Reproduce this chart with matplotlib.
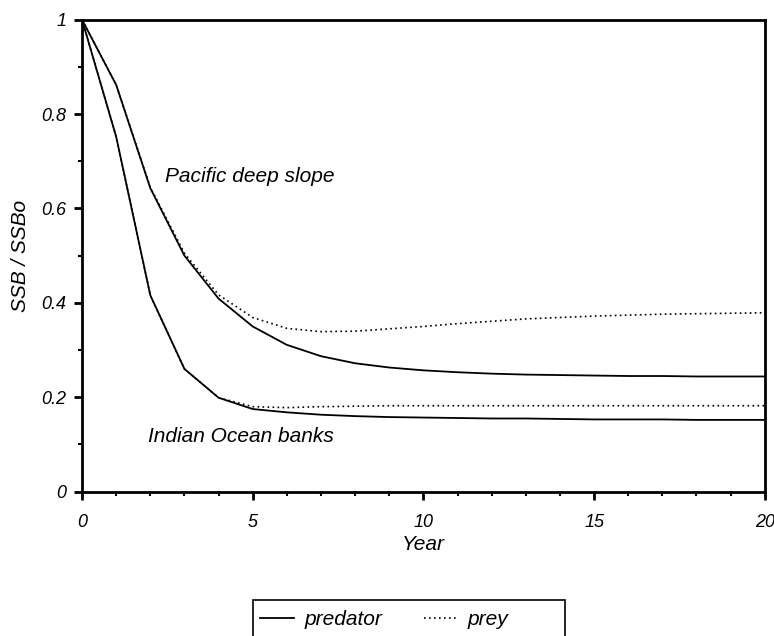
import numpy as np
import matplotlib
matplotlib.use('Agg')
import matplotlib.pyplot as plt
from matplotlib.ticker import MultipleLocator
from matplotlib.patches import Rectangle

years = np.arange(0, 21)

pacific_predator = [1.0, 0.862, 0.643, 0.5, 0.409, 0.35, 0.311, 0.287, 0.272, 0.263, 0.257,
                    0.253, 0.250, 0.248, 0.247, 0.246, 0.245, 0.245, 0.244, 0.244, 0.244]
pacific_prey = [1.0, 0.862, 0.645, 0.505, 0.417, 0.369, 0.346, 0.339, 0.34, 0.345, 0.35,
                0.356, 0.361, 0.366, 0.369, 0.372, 0.374, 0.376, 0.377, 0.378, 0.379]
indian_predator = [1.0, 0.752, 0.416, 0.26, 0.199, 0.175, 0.168, 0.163, 0.160, 0.158, 0.157,
                   0.156, 0.155, 0.155, 0.154, 0.153, 0.153, 0.153, 0.152, 0.152, 0.152]
indian_prey = [1.0, 0.752, 0.416, 0.26, 0.199, 0.18, 0.178, 0.18, 0.181, 0.182, 0.182,
               0.182, 0.182, 0.182, 0.182, 0.182, 0.182, 0.182, 0.182, 0.182, 0.182]
yticks = [0, 0.2, 0.4, 0.6, 0.8, 1.0]
ytick_labels = ['0', '0.2', '0.4', '0.6', '0.8', '1']

plt.rcParams['font.family'] = ['Liberation Sans', 'DejaVu Sans']
plt.rcParams['font.style'] = 'italic'

W, H = 774, 636
fig = plt.figure(figsize=(W / 100, H / 100), dpi=100)
ax = fig.add_axes([0.106, 0.227, 0.882, 0.742])

dots = (0, (1, 2))
ax.plot(years, pacific_prey, color='black', lw=1.2, ls=dots)
ax.plot(years, indian_prey, color='black', lw=1.2, ls=dots)
l1, = ax.plot(years, pacific_predator, color='black', lw=1.3, label='predator')
ax.plot(years, indian_predator, color='black', lw=1.3)
l2, = ax.plot([], [], color='black', lw=1.2, ls=dots, label='prey')

ax.set_xlim(0, 20)
ax.set_ylim(0, 1)
ax.xaxis.set_major_locator(MultipleLocator(5))
ax.xaxis.set_minor_locator(MultipleLocator(1))
ax.yaxis.set_minor_locator(MultipleLocator(0.1))
ax.set_yticks(yticks)
ax.set_yticklabels(ytick_labels)

for s in ax.spines.values():
    s.set_linewidth(2)
ax.tick_params(which='major', length=6, width=2, labelsize=13, direction='out')
ax.tick_params(which='minor', length=3, width=1.5, direction='out')
ax.tick_params(axis='x', pad=10)
ax.tick_params(axis='y', pad=5.5)

ax.set_xlabel('Year', fontsize=15, labelpad=3)
ax.set_ylabel('SSB / SSBo', fontsize=15, labelpad=8)

ax.text(2.43, 0.667, 'Pacific deep slope', fontsize=15, va='center')
ax.text(1.93, 0.116, 'Indian Ocean banks', fontsize=15, va='center')

# legend box runs off the bottom of the figure, like the source
fig.patches.append(Rectangle((253 / W, -0.05), (565 - 253) / W, 0.05 + 1 - 600 / H,
                             transform=fig.transFigure, fill=False, edgecolor='black',
                             lw=1.2))
fig.legend(handles=[l1, l2], loc='upper left', bbox_to_anchor=(253 / W, 1 - 603 / H),
           borderaxespad=0, ncol=2, fontsize=15, frameon=False,
           handlelength=1.6, handletextpad=0.5, columnspacing=2.0, borderpad=0.35)

plt.savefig('out.png', dpi=100)
